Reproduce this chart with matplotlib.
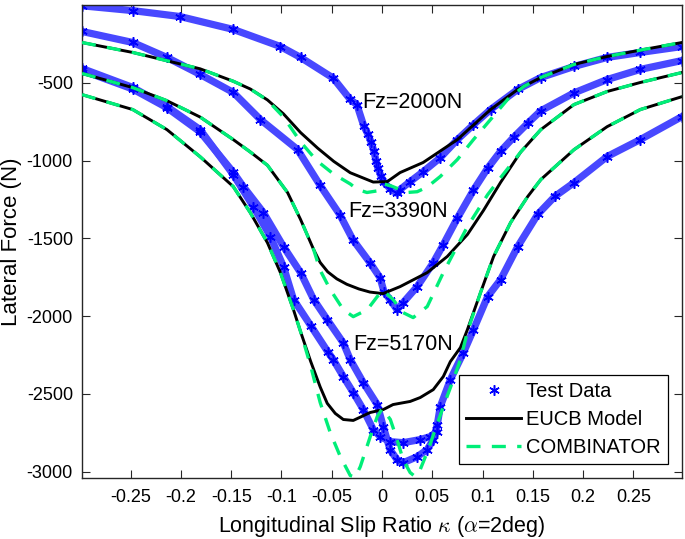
import matplotlib
matplotlib.use("Agg")
import matplotlib.pyplot as plt

# ---------------- data ----------------
# Test data, Fz = 2000 N
k_test_2000 = [-0.2985, -0.248, -0.201, -0.148, -0.101, -0.081, -0.0485, -0.0316, -0.025,
               -0.018, -0.014, -0.011, -0.008, -0.006, -0.004, -0.001, 0.002, 0.008, 0.015,
               0.018, 0.028, 0.041, 0.058, 0.075, 0.091, 0.108, 0.135, 0.158, 0.191, 0.224,
               0.257, 0.2985]
F_test_2000 = [-5, -36, -74, -157, -267, -337, -470, -607, -640,
               -780, -830, -880, -940, -1000, -1050, -1100, -1140, -1180, -1210,
               -1186, -1135, -1071, -981, -865, -769, -672, -543, -466, -395, -337,
               -305, -267]

# Test data, Fz = 3390 N
k_test_3390 = [-0.2985, -0.248, -0.214, -0.181, -0.148, -0.121, -0.084, -0.0615, -0.042,
               -0.029, -0.012, -0.002, 0.002, 0.008, 0.015, 0.021, 0.035, 0.051, 0.061,
               0.075, 0.091, 0.105, 0.118, 0.131, 0.145, 0.158, 0.191, 0.224, 0.257, 0.2985]
F_test_3390 = [-170, -241, -337, -446, -562, -736, -929, -1160, -1347,
               -1508, -1656, -1752, -1842, -1894, -1958, -1913, -1810, -1656, -1540,
               -1370, -1190, -1050, -940, -850, -760, -680, -565, -479, -414, -357]

# Test data, Fz = 5170 N (two sweeps)
k_test_5170a = [-0.2985, -0.248, -0.214, -0.181, -0.148, -0.128, -0.111, -0.098, -0.088,
                -0.071, -0.054, -0.0485, -0.0385, -0.0286, -0.0186, -0.0087, -0.0017, 0.008,
                0.021, 0.038, 0.048, 0.055]
F_test_5170a = [-408, -530, -653, -801, -1090, -1296, -1489, -1682, -1893,
                -2060, -2228, -2279, -2388, -2491, -2600, -2729, -2774, -2806,
                -2813, -2793, -2774, -2742]
k_test_5170b = [-0.2985, -0.248, -0.214, -0.181, -0.148, -0.138, -0.118, -0.098, -0.081,
                -0.068, -0.0545, -0.0385, -0.0316, -0.0186, -0.0047, 0.0013, 0.008, 0.015,
                0.021, 0.035, 0.045, 0.051, 0.055, 0.058, 0.068, 0.081, 0.091, 0.105, 0.118,
                0.135, 0.155, 0.172, 0.191, 0.224, 0.257, 0.2985]
F_test_5170b = [-420, -540, -660, -815, -1075, -1167, -1334, -1553, -1720,
                -1893, -2022, -2172, -2279, -2427, -2568, -2710, -2858, -2922,
                -2942, -2903, -2858, -2793, -2697, -2581, -2408, -2235, -2087, -1875, -1765,
                -1553, -1345, -1230, -1142, -974, -865, -717]

# EUCB model
k_eucb_2000 = [-0.2985, -0.248, -0.181, -0.148, -0.131, -0.114, -0.098, -0.081, -0.064,
               -0.048, -0.0316, -0.0087, 0.0053, 0.018, 0.041, 0.075, 0.108, 0.135, 0.158,
               0.191, 0.224, 0.257, 0.2985]
F_eucb_2000 = [-241, -305, -410, -490, -540, -610, -700, -820, -920,
               -1005, -1078, -1138, -1135, -1077, -1012, -865, -672, -543, -466,
               -382, -331, -290, -241]
k_eucb_3390 = [-0.2985, -0.248, -0.214, -0.181, -0.148, -0.131, -0.114, -0.094, -0.081,
               -0.068, -0.0615, -0.054, -0.045, -0.035, -0.023, -0.012, 0.001, 0.018, 0.045,
               0.065, 0.085, 0.101, 0.118, 0.138, 0.158, 0.191, 0.224, 0.257, 0.2985]
F_eucb_3390 = [-440, -531, -615, -720, -865, -945, -1030, -1205, -1379,
               -1572, -1655, -1715, -1760, -1795, -1825, -1845, -1855, -1810, -1720,
               -1616, -1475, -1320, -1140, -945, -801, -640, -556, -498, -434]
k_eucb_5170 = [-0.2985, -0.248, -0.214, -0.181, -0.148, -0.131, -0.114, -0.101, -0.094,
               -0.088, -0.081, -0.071, -0.0615, -0.0545, -0.0465, -0.0385, -0.0286, -0.0117,
               0.0013, 0.011, 0.028, 0.038, 0.051, 0.061, 0.068, 0.078, 0.085, 0.098, 0.111,
               0.128, 0.145, 0.158, 0.191, 0.224, 0.257, 0.2985]
F_eucb_5170 = [-576, -672, -801, -975, -1167, -1335, -1528, -1721, -1850,
               -1960, -2100, -2290, -2455, -2560, -2625, -2664, -2670, -2619,
               -2600, -2568, -2548, -2523, -2472, -2388, -2292, -2202, -2086, -1849, -1617,
               -1398, -1231, -1122, -930, -782, -672, -589]

# COMBINATOR model
k_comb_2000 = [-0.2985, -0.248, -0.181, -0.148, -0.131, -0.114, -0.098, -0.081, -0.065,
               -0.0485, -0.0316, -0.0246, -0.015, -0.005, 0.002, 0.010, 0.025, 0.035, 0.045,
               0.058, 0.075, 0.091, 0.108, 0.125, 0.141, 0.158, 0.191, 0.224, 0.257, 0.2985]
F_comb_2000 = [-241, -305, -410, -490, -540, -612, -720, -880, -1000,
               -1085, -1150, -1185, -1205, -1195, -1150, -1165, -1205, -1200, -1170,
               -1102, -993, -865, -736, -607, -524, -466, -382, -331, -290, -241]
k_comb_3390 = [-0.2985, -0.248, -0.214, -0.181, -0.148, -0.131, -0.114, -0.094, -0.081,
               -0.068, -0.0615, -0.0515, -0.0385, -0.0286, -0.0146, -0.0047, 0.0013, 0.011,
               0.021, 0.031, 0.045, 0.061, 0.085, 0.105, 0.118, 0.138, 0.158, 0.191, 0.224,
               0.257, 0.2985]
F_comb_3390 = [-440, -531, -615, -720, -865, -945, -1030, -1205, -1379,
               -1572, -1705, -1829, -1958, -2003, -1958, -1874, -1835, -1893,
               -1977, -2009, -1938, -1720, -1424, -1220, -1110, -945, -801, -640, -556,
               -498, -434]
k_comb_5170 = [-0.2985, -0.248, -0.214, -0.181, -0.148, -0.131, -0.114, -0.101, -0.094,
               -0.088, -0.081, -0.071, -0.0615, -0.0515, -0.0415, -0.0316, -0.0266, -0.0216,
               -0.0117, -0.0047, 0.0003, 0.0083, 0.015, 0.021, 0.028, 0.033, 0.038, 0.046,
               0.054, 0.061, 0.071, 0.078, 0.085, 0.098, 0.111, 0.128, 0.145, 0.158, 0.191,
               0.224, 0.257, 0.2985]
F_comb_5170 = [-576, -672, -801, -975, -1167, -1335, -1528, -1721, -1850,
               -1960, -2100, -2320, -2555, -2748, -2902, -3024, -3035, -2967,
               -2774, -2645, -2594, -2664, -2793, -2922, -3005, -3031, -2986, -2858,
               -2710, -2581, -2408, -2279, -2100, -1849, -1617, -1398, -1231, -1122, -930,
               -782, -672, -589]

load_labels = ["Fz=2000N", "Fz=3390N", "Fz=5170N"]
label_pos = [(-0.0196, -659), (-0.0336, -1360), (-0.0286, -2215)]

x_ticks = [-0.25, -0.2, -0.15, -0.1, -0.05, 0, 0.05, 0.1, 0.15, 0.2, 0.25]
x_ticklabels = ["-0.25", "-0.2", "-0.15", "-0.1", "-0.05", "0", "0.05", "0.1", "0.15", "0.2", "0.25"]
y_ticks = [-3000, -2500, -2000, -1500, -1000, -500]
y_ticklabels = ["-3000", "-2500", "-2000", "-1500", "-1000", "-500"]

# ---------------- styling ----------------
plt.rcParams['font.family'] = ['Liberation Sans', 'DejaVu Sans']
plt.rcParams['mathtext.fontset'] = 'cm'

BLUE = '#0000FF'
BAND = '#4848FF'
GREEN = '#00EE78'
AX_COL = '#262626'
ASTER = (6, 2, 0)

fig = plt.figure(figsize=(6.85, 5.39), dpi=100)
ax = fig.add_axes([82 / 685, 61 / 539, 600 / 685, 473 / 539])

test_sets = [(k_test_2000, F_test_2000), (k_test_3390, F_test_3390),
             (k_test_5170a, F_test_5170a), (k_test_5170b, F_test_5170b)]
for i, (k, F) in enumerate(test_sets):
    ax.plot(k, F, '-', color=BAND, lw=5.2, solid_capstyle='round',
            solid_joinstyle='round', zorder=2)
    ax.plot(k, F, linestyle='none', marker=ASTER, color=BLUE, ms=7.5, mew=1.1,
            zorder=2.5, label='Test Data' if i == 0 else None)

eucb_sets = [(k_eucb_2000, F_eucb_2000), (k_eucb_3390, F_eucb_3390), (k_eucb_5170, F_eucb_5170)]
for i, (k, F) in enumerate(eucb_sets):
    ax.plot(k, F, '-', color='black', lw=2.1, zorder=3, solid_joinstyle='round',
            label='EUCB Model' if i == 0 else None)

comb_sets = [(k_comb_2000, F_comb_2000), (k_comb_3390, F_comb_3390), (k_comb_5170, F_comb_5170)]
for i, (k, F) in enumerate(comb_sets):
    ax.plot(k, F, color=GREEN, lw=2.4, dashes=(4.2, 3.4), zorder=4,
            dash_joinstyle='round', label='COMBINATOR' if i == 0 else None)

for txt, (kx, fy) in zip(load_labels, label_pos):
    ax.text(kx, fy, txt, fontsize=15.5, ha='left', va='baseline', color='black', zorder=5)

ax.set_xlim(-0.2985, 0.2985)
ax.set_ylim(-3040, 0)
ax.set_xticks(x_ticks)
ax.set_xticklabels(x_ticklabels)
ax.set_yticks(y_ticks)
ax.set_yticklabels(y_ticklabels)
ax.tick_params(direction='in', length=5.5, width=0.8, top=True, right=True,
               labelsize=13, colors=AX_COL, labelcolor='black')
ax.tick_params(axis='x', pad=8)
ax.tick_params(axis='y', pad=6.5)
for sp in ax.spines.values():
    sp.set_color(AX_COL)
    sp.set_linewidth(1.0)

ax.set_xlabel(r'Longitudinal Slip Ratio $\kappa$ ($\alpha$=2deg)', fontsize=15.5,
              va='baseline')
ax.xaxis.set_label_coords(0.5, -0.114)
ax.set_ylabel('Lateral Force (N)', fontsize=16)
ax.yaxis.set_label_coords(-0.1005, 0.5)

leg = ax.legend(loc='lower right', bbox_to_anchor=(0.9767, 0.0296), borderaxespad=0,
                fontsize=14.5, frameon=True, fancybox=False, framealpha=1,
                edgecolor='black', handlelength=2.75, handletextpad=0.25,
                labelspacing=0.45, borderpad=0.35, numpoints=1)
leg.get_frame().set_linewidth(0.9)

fig.savefig('out.png', dpi=100)
